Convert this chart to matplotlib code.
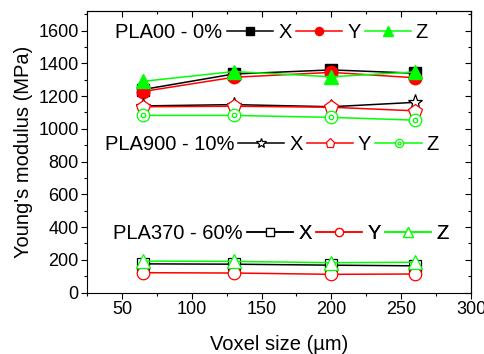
import matplotlib
matplotlib.use("Agg")
import matplotlib.pyplot as plt
from matplotlib.ticker import MultipleLocator, NullFormatter
from matplotlib.legend_handler import HandlerTuple

plt.rcParams['font.family'] = ['Liberation Sans', 'DejaVu Sans']

voxel = [65, 130, 200, 260]

pla00_x = [1240, 1335, 1360, 1340]
pla00_y = [1228, 1315, 1345, 1312]
pla00_z = [1290, 1350, 1318, 1348]

pla900_x = [1140, 1148, 1135, 1162]
pla900_y = [1135, 1138, 1132, 1110]
pla900_z = [1082, 1082, 1070, 1053]

pla370_x = [175, 173, 167, 163]
pla370_y = [121, 119, 111, 113]
pla370_z = [192, 190, 182, 185]

group_titles = ["PLA00 - 0%", "PLA900 - 10%", "PLA370 - 60%"]
dir_labels = ["X", "Y", "Z"]

BLACK = "#000000"
RED = "#ff0000"
GREEN = "#00ff00"

fig = plt.figure(figsize=(4.85, 3.54), dpi=100)
ax = fig.add_axes([87/485, (354-292.5)/354, 384/485, 281.5/354])

lw = 1.1
# PLA00 (filled)
l00x, = ax.plot(voxel, pla00_x, color=BLACK, lw=lw, marker='s', ms=8, mfc=BLACK, mec=BLACK)
l00y, = ax.plot(voxel, pla00_y, color=RED, lw=lw, marker='o', ms=9, mfc=RED, mec=RED)
l00z, = ax.plot(voxel, pla00_z, color=GREEN, lw=lw, marker='^', ms=10.5, mfc=GREEN, mec=GREEN)
# PLA900 (hollow)
l9x, = ax.plot(voxel, pla900_x, color=BLACK, lw=lw, marker='*', ms=11, mfc='white', mec=BLACK, mew=0.9)
l9y, = ax.plot(voxel, pla900_y, color=RED, lw=lw, marker='p', ms=10, mfc='white', mec=RED, mew=0.9)
l9z, = ax.plot(voxel, pla900_z, color=GREEN, lw=lw, marker='o', ms=9, mfc='white', mec=GREEN, mew=0.9)
l9zd, = ax.plot(voxel, pla900_z, ls='none', marker='o', ms=3.2, mfc='none', mec=GREEN, mew=0.9)
# PLA370 (hollow)
l3x, = ax.plot(voxel, pla370_x, color=BLACK, lw=lw, marker='s', ms=8, mfc='white', mec=BLACK, mew=0.9)
l3y, = ax.plot(voxel, pla370_y, color=RED, lw=lw, marker='o', ms=9, mfc='white', mec=RED, mew=0.9)
l3z, = ax.plot(voxel, pla370_z, color=GREEN, lw=lw, marker='^', ms=10.5, mfc='white', mec=GREEN, mew=0.9)

ax.set_xlim(25, 300)
ax.set_ylim(0, 1720)
ax.xaxis.set_major_locator(MultipleLocator(50))
ax.xaxis.set_minor_locator(MultipleLocator(25))
ax.yaxis.set_major_locator(MultipleLocator(200))
ax.yaxis.set_minor_locator(MultipleLocator(100))
ax.tick_params(which='both', direction='out', labelsize=13, width=0.8, pad=2)
ax.tick_params(which='major', length=4)
ax.tick_params(which='minor', length=2.5)
for s in ax.spines.values():
    s.set_linewidth(0.8)

top = ax.secondary_xaxis('top')
top.xaxis.set_major_locator(MultipleLocator(50))
top.xaxis.set_minor_locator(MultipleLocator(25))
top.tick_params(which='both', direction='in', labeltop=False, width=0.8)
top.tick_params(which='major', length=4)
top.tick_params(which='minor', length=2.5)
top.xaxis.set_major_formatter(NullFormatter())
right = ax.secondary_yaxis('right')
right.yaxis.set_major_locator(MultipleLocator(200))
right.yaxis.set_minor_locator(MultipleLocator(100))
right.tick_params(which='both', direction='in', labelright=False, width=0.8)
right.tick_params(which='major', length=4)
right.tick_params(which='minor', length=2.5)
right.yaxis.set_major_formatter(NullFormatter())

ax.set_xlabel("Voxel size (µm)", fontsize=14.5, labelpad=12)
ax.set_ylabel("Young's modulus (MPa)", fontsize=14.5, labelpad=4)

rows = [
    (group_titles[0], [l00x, l00y, l00z], 0.0729, 0.3646, 0.922),
    (group_titles[1], [l9x, l9y, (l9z, l9zd)], 0.0469, 0.393, 0.524),
    (group_titles[2], [l3x, l3y, l3z], 0.0677, 0.4167, 0.210),
]
for title, handles, tx, lx, yc in rows:
    ax.text(tx, yc, title, transform=ax.transAxes, fontsize=14.5, va='center', ha='left')
    leg = ax.legend(handles, dir_labels, ncol=3, loc='center left', bbox_to_anchor=(lx, yc),
                    frameon=False, fontsize=14.5, handlelength=2.3, handletextpad=0.25,
                    columnspacing=0.2, borderpad=0, borderaxespad=0, markerscale=0.65,
                    numpoints=1, handler_map={tuple: HandlerTuple(ndivide=1, pad=0)})
    ax.add_artist(leg)

fig.savefig("out.png", dpi=100)
